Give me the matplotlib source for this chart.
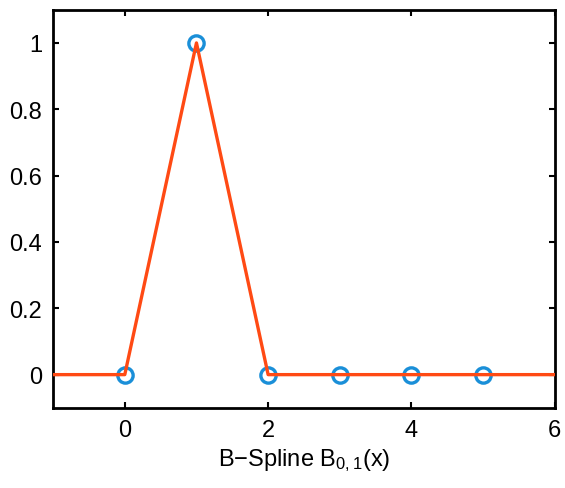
import matplotlib
matplotlib.use("Agg")
import matplotlib.pyplot as plt

# B-spline B_{0,1} sampled on the knots
line_x = [-1, 0, 1, 2, 3, 4, 5, 6]
line_y = [0, 0, 1, 0, 0, 0, 0, 0]
knot_x = [0, 1, 2, 3, 4, 5]
knot_y = [0, 1, 0, 0, 0, 0]

xticks = [0, 2, 4, 6]
yticks = [0, 0.2, 0.4, 0.6, 0.8, 1]
ytick_labels = ["0", "0.2", "0.4", "0.6", "0.8", "1"]

plt.rcParams["font.family"] = ["Liberation Sans", "DejaVu Sans"]
plt.rcParams["mathtext.fontset"] = "custom"
plt.rcParams["mathtext.rm"] = "Liberation Sans"
plt.rcParams["mathtext.it"] = "Liberation Sans"

fig = plt.figure(figsize=(5.65, 4.89), dpi=100)
ax = fig.add_axes([0.094, 0.164, 0.888, 0.814])

ax.plot(knot_x, knot_y, "o", mfc="none", mec="#1a8fd8", ms=11, mew=2.4, zorder=2)
ax.plot(line_x, line_y, color="#ff4a14", lw=2.4, zorder=3)

ax.set_xlim(-1, 6)
ax.set_ylim(-0.1, 1.1)
ax.set_xticks(xticks)
ax.set_yticks(yticks)
ax.set_yticklabels(ytick_labels)
ax.tick_params(direction="in", top=True, right=True, labelsize=17, length=4, width=1.5, pad=8)
for s in ax.spines.values():
    s.set_linewidth(2)
ax.set_xlabel("B\u2212Spline B$_{0,1}$(x)", fontsize=17, labelpad=4)

fig.savefig("out.png", dpi=100)
